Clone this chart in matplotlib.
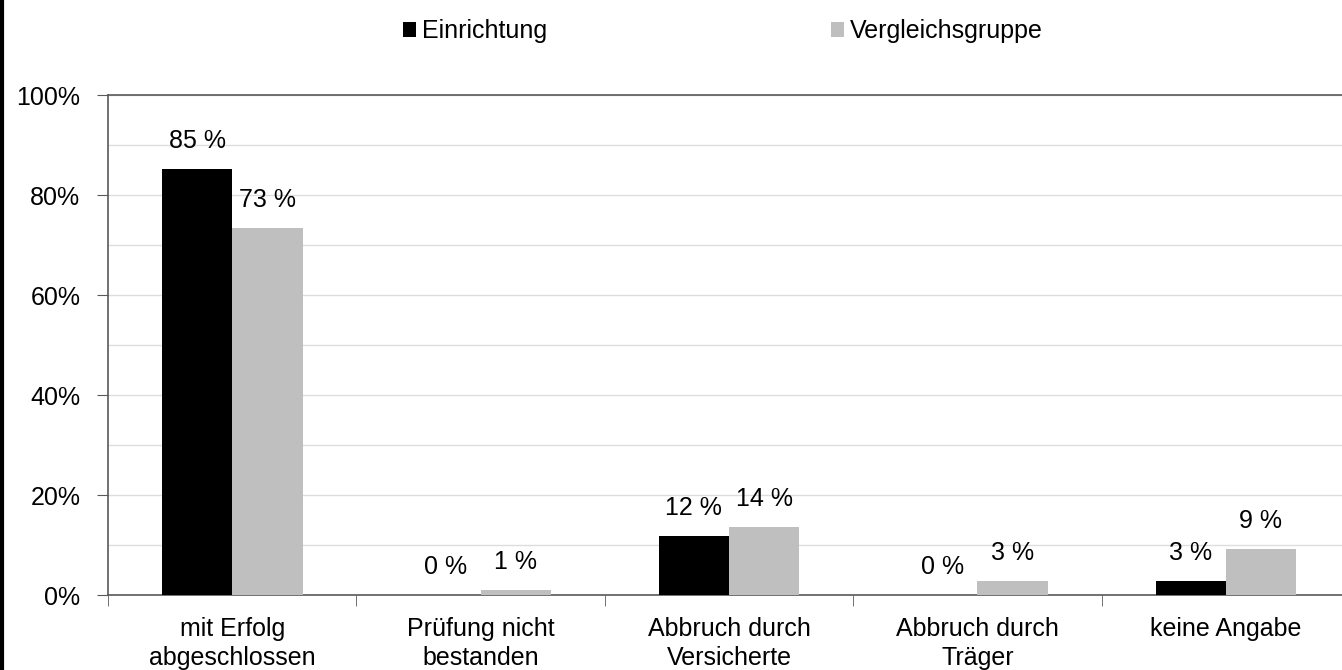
import matplotlib.pyplot as plt
from matplotlib.patches import Patch
from matplotlib.lines import Line2D
from matplotlib.ticker import MultipleLocator, FuncFormatter

categories = ["mit Erfolg\nabgeschlossen", "Prüfung nicht\nbestanden",
              "Abbruch durch\nVersicherte", "Abbruch durch\nTräger", "keine Angabe"]
einrichtung = [85.3, 0.0, 11.8, 0.0, 2.9]
vergleich = [73.4, 1.0, 13.6, 2.8, 9.3]
series_names = ["Einrichtung", "Vergleichsgruppe"]

FS = 18
plt.rcParams["font.family"] = ["Liberation Sans", "DejaVu Sans"]
plt.rcParams["font.size"] = FS

fig = plt.figure(figsize=(13.42, 6.70), dpi=100)
ax = fig.add_axes([0.0805, 0.1119, 0.9255, 0.7463])

w = 0.283
x = list(range(len(categories)))
b1 = ax.bar([i - w / 2 for i in x], einrichtung, width=w, color="#000000", zorder=3)
b2 = ax.bar([i + w / 2 for i in x], vergleich, width=w, color="#bfbfbf", zorder=3)

for bars, vals in ((b1, einrichtung), (b2, vergleich)):
    for rect, v in zip(bars, vals):
        ax.annotate(f"{round(v)} %", (rect.get_x() + rect.get_width() / 2, v),
                    xytext=(0, 20), textcoords="offset points",
                    ha="center", va="center", fontsize=FS)

ax.set_xlim(-0.5, 4.5)
ax.set_ylim(0, 100)
ax.yaxis.set_major_locator(MultipleLocator(20))
ax.yaxis.set_minor_locator(MultipleLocator(10))
ax.yaxis.set_major_formatter(FuncFormatter(lambda v, p: f"{v:.0f}%"))
ax.grid(axis="y", which="both", color="#dddddd", linewidth=1, zorder=0)

ax.set_xticks(x)
ax.set_xticklabels(categories, linespacing=1.25)
ax.set_xticks([i - 0.5 for i in range(len(categories) + 1)], minor=True)
ax.tick_params(axis="x", which="major", length=0, pad=16)
ax.tick_params(axis="x", which="minor", length=8, color="#595959", direction="out")
ax.tick_params(axis="y", which="major", length=8, color="#595959", pad=12)
ax.tick_params(axis="y", which="minor", length=0)

for s in ("left", "bottom", "top"):
    ax.spines[s].set_color("#595959")
    ax.spines[s].set_linewidth(1.2)
ax.spines["right"].set_visible(False)

handles = [Patch(facecolor="#000000"), Patch(facecolor="#bfbfbf")]
fig.legend(handles, series_names, loc="center left", bbox_to_anchor=(0.3003, 0.953),
           ncol=2, frameon=False, handlelength=0.52, handleheight=0.52,
           handletextpad=0.24, columnspacing=11.35, borderpad=0, borderaxespad=0,
           fontsize=FS)

fig.add_artist(Line2D([0.0012, 0.0012], [0, 1], color="black", linewidth=3,
                      transform=fig.transFigure))

fig.savefig("out.png", dpi=100)
